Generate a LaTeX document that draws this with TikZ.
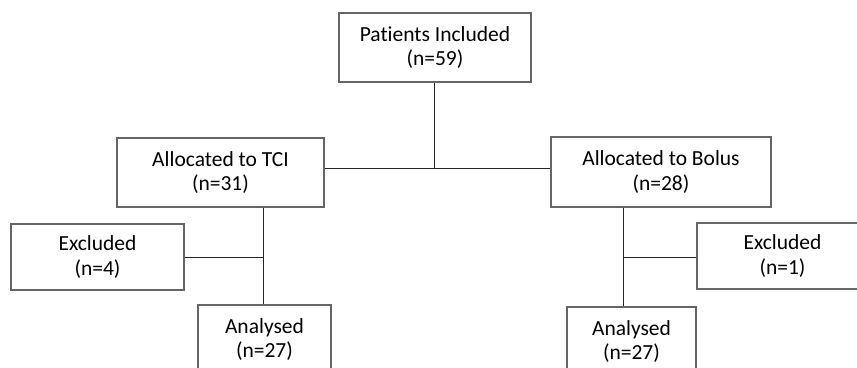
\documentclass[tikz,border=0pt]{standalone}
\usepackage{fontspec}
\setmainfont[Ligatures=NoCommon]{Carlito}
\begin{document}
\begin{tikzpicture}[x=1pt,y=-1pt,
  box/.style={draw=black!60, line width=1.2pt, fill=white, align=center, inner sep=0pt,
    font=\fontsize{21.5}{24.5}\selectfont},
  conn/.style={draw=black!85, line width=1pt}]
\useasboundingbox (0,0) rectangle (857,367);
\clip (0,0) rectangle (857,367);
\node[box, minimum width=192pt, minimum height=69pt] (top) at (435,47.5) {Patients Included\\(n=59)};
\node[box, minimum width=207pt, minimum height=69pt] (tci) at (220.5,172.5) {Allocated to TCI\\(n=31)};
\node[box, minimum width=220pt, minimum height=70pt] (bolus) at (661,172) {Allocated to Bolus\\(n=28)};
\node[box, minimum width=173pt, minimum height=66pt] (exL) at (97.5,257) {Excluded\\(n=4)};
\node[box, minimum width=171pt, minimum height=66pt] (exR) at (782.5,256) {Excluded\\(n=1)};
\node[box, minimum width=133pt, minimum height=69pt] (anL) at (264.5,339.5) {Analysed\\(n=27)};
\node[box, minimum width=129pt, minimum height=69pt] (anR) at (631.5,341.5) {Analysed\\(n=27)};
\coordinate (j) at (434,168);
\coordinate (jl) at (263,257);
\coordinate (jr) at (623,257);
\draw[conn] (top.south -| j) -- (j);
\draw[conn] (tci.east |- j) -- (bolus.west |- j);
\draw[conn] (tci.south -| jl) -- (anL.north -| jl);
\draw[conn] (exL.east |- jl) -- (jl);
\draw[conn] (bolus.south -| jr) -- (anR.north -| jr);
\draw[conn] (exR.west |- jr) -- (jr);
\end{tikzpicture}
\end{document}
